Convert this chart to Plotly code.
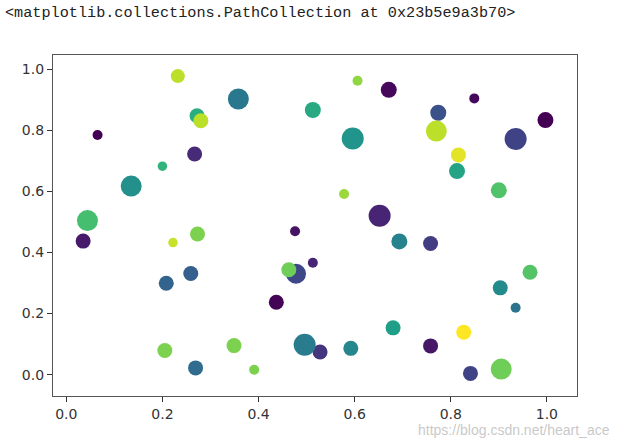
import plotly.graph_objects as go

# Data
x_vals = [0.232, 0.358, 0.513, 0.272, 0.280, 0.065, 0.267, 0.200, 0.135, 0.044,
          0.035, 0.222, 0.273, 0.476, 0.606, 0.671, 0.849, 0.774, 0.770, 0.997,
          0.935, 0.596, 0.816, 0.813, 0.900, 0.578, 0.652, 0.693, 0.758, 0.259,
          0.208, 0.478, 0.463, 0.513, 0.437, 0.528, 0.496, 0.205, 0.349, 0.269,
          0.391, 0.965, 0.903, 0.935, 0.680, 0.827, 0.592, 0.758, 0.841, 0.905]
y_vals = [0.977, 0.902, 0.866, 0.847, 0.831, 0.784, 0.722, 0.682, 0.617, 0.504,
          0.437, 0.432, 0.460, 0.469, 0.962, 0.932, 0.904, 0.857, 0.797, 0.833,
          0.771, 0.773, 0.719, 0.666, 0.603, 0.591, 0.520, 0.436, 0.429, 0.331,
          0.299, 0.330, 0.343, 0.366, 0.237, 0.074, 0.098, 0.079, 0.095, 0.022,
          0.016, 0.335, 0.284, 0.219, 0.153, 0.139, 0.086, 0.094, 0.004, 0.018]
color_vals = [0.90, 0.40, 0.60, 0.62, 0.90, 0.00, 0.12, 0.65, 0.50, 0.70,
              0.07, 0.92, 0.80, 0.05, 0.83, 0.02, 0.02, 0.25, 0.90, 0.00,
              0.20, 0.52, 0.96, 0.58, 0.72, 0.85, 0.10, 0.45, 0.18, 0.30,
              0.32, 0.22, 0.78, 0.10, 0.01, 0.15, 0.42, 0.80, 0.80, 0.35,
              0.80, 0.73, 0.48, 0.38, 0.56, 1.00, 0.46, 0.06, 0.20, 0.78]
size_vals = [14, 21, 16, 15, 15, 10, 15, 9.5, 21, 21,
             15, 9.5, 15, 10, 10, 16, 10, 16, 21, 16,
             22, 22, 15, 16, 16, 10, 22, 16, 15, 15,
             15, 20, 15, 10, 15, 15, 22, 15, 15, 15,
             10, 15, 15, 10, 15, 15, 15, 15, 15, 21]

x_ticks = [0.0, 0.2, 0.4, 0.6, 0.8, 1.0]
y_ticks = [0.0, 0.2, 0.4, 0.6, 0.8, 1.0]

fig = go.Figure()
fig.add_trace(go.Scatter(
    x=x_vals, y=y_vals, mode="markers",
    marker=dict(size=size_vals, color=color_vals, colorscale="Viridis",
                cmin=0, cmax=1, line=dict(width=0), opacity=1),
    showlegend=False, hoverinfo="skip"))

axis_common = dict(showgrid=False, zeroline=False, showline=True, mirror=True,
                   linecolor="#555", linewidth=1.2, ticks="outside", ticklen=5,
                   tickwidth=1, tickcolor="#333",
                   tickfont=dict(family="DejaVu Sans", size=14, color="#333"))

fig.update_layout(
    width=622, height=440,
    margin=dict(l=53, r=45, t=55, b=44),
    paper_bgcolor="white", plot_bgcolor="white",
    xaxis=dict(range=[-0.0277, 1.0627], tickvals=x_ticks,
               ticktext=[f"{v:.1f}" for v in x_ticks], **axis_common),
    yaxis=dict(range=[-0.070, 1.046], tickvals=y_ticks,
               ticktext=[f"{v:.1f}" for v in y_ticks], **axis_common),
    title=dict(text="&lt;matplotlib.collections.PathCollection at 0x23b5e9a3b70&gt;",
               x=5/622, xanchor="left", xref="container",
               y=1 - 12/440, yanchor="middle", yref="container",
               font=dict(family="Liberation Mono", size=15.2, color="#222")),
)

fig.add_annotation(text="https://blog.csdn.net/heart_ace",
                   xref="paper", yref="paper",
                   x=(612 - 53) / (622 - 53 - 45), y=-(430 - 396) / (440 - 55 - 44),
                   xanchor="right", yanchor="middle", showarrow=False,
                   font=dict(family="Liberation Sans", size=14, color="rgba(190,190,190,0.85)"))

fig.write_html("out.html", config={"displayModeBar": False},
               post_script="document.body.style.margin='0';document.body.style.overflow='hidden';")
